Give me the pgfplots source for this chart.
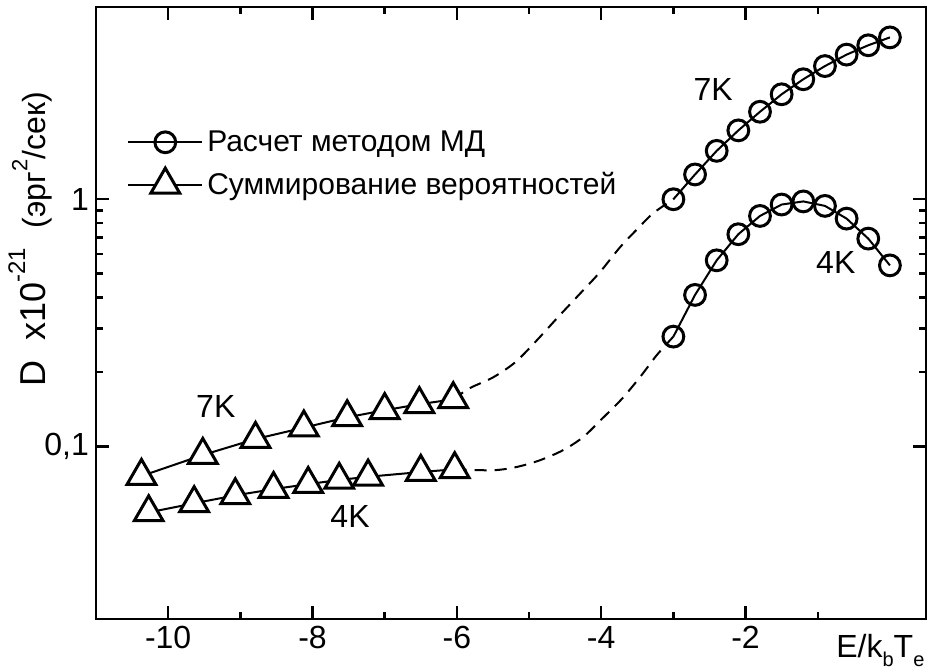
\documentclass[border=0pt]{standalone}
\usepackage{fontspec}
\setmainfont{Liberation Sans}
\usepackage{pgfplots}
\pgfplotsset{compat=1.18}
\usetikzlibrary{calc}
\begin{document}
\begin{tikzpicture}
\begin{axis}[
  scale only axis, width=415pt, height=306pt,
  ymode=log, xmin=-11, xmax=0.5, ymin=0.02, ymax=6,
  xtick={-10,-8,-6,-4,-2}, xticklabels={-10,-8,-6,-4,-2},
  minor xtick={-9,-7,-5,-3,-1},
  ytick={0.1,1}, yticklabels={{0,1},{1}},
  tick align=inside, major tick length=6.5pt, minor tick length=3.5pt,
  axis line style={line width=1.4pt},
  every tick/.style={line width=1.2pt, black},
  tick label style={font=\fontsize{16}{19}\selectfont},
  xlabel={E/k\raisebox{-0.55ex}{\fontsize{10}{10}\selectfont b}T\raisebox{-0.55ex}{\fontsize{10}{10}\selectfont e}},
  xlabel style={at={(rel axis cs:0.945,0)}, anchor=north, yshift=-4pt, font=\fontsize{16}{19}\selectfont},
  ylabel={D\ \ x10\raisebox{1.1ex}{\fontsize{12}{12}\selectfont -21}\ \ {\fontsize{16}{18}\selectfont (эрг\raisebox{1.1ex}{\fontsize{11}{11}\selectfont 2}/сек)}},
  ylabel style={at={(rel axis cs:-0.079,0.62)}, anchor=center, font=\fontsize{18}{21}\selectfont},
  legend style={draw=none, fill=none, at={(rel axis cs:0.03,0.812)}, anchor=north west,
    font=\fontsize{15}{18}\selectfont, row sep=5pt},
  legend cell align=left,
  legend image code/.code={\draw[#1, mark repeat=2, mark phase=2] plot coordinates {(0cm,0cm)(0.65cm,0cm)(1.3cm,0cm)};},
  circ/.style={black, line width=1pt, mark=o, mark size=5.2pt, mark options={line width=1.5pt, fill=white, solid}},
  tri/.style={black, line width=1pt, mark=triangle*, mark size=8.3pt, mark options={line width=1.5pt, fill=white, solid}},
]
\coordinate (sw) at (rel axis cs:0,0);
\coordinate (ne) at (rel axis cs:1,1);
% dashed connections
\addplot[black, line width=1pt, dash pattern=on 6pt off 4pt, smooth, forget plot] coordinates {
(-6.05,0.155) (-5.82,0.172) (-5.50,0.190) (-5.19,0.219) (-4.89,0.269) (-4.60,0.333)
(-4.29,0.416) (-4.02,0.506) (-3.74,0.639) (-3.49,0.763) (-3.28,0.878) (-3,1.0)};
\addplot[black, line width=1pt, dash pattern=on 6pt off 4pt, smooth, forget plot] coordinates {
(-6.03,0.0807) (-5.50,0.0800) (-5.17,0.0825) (-4.85,0.0878) (-4.53,0.0964) (-4.25,0.109)
(-3.98,0.130) (-3.71,0.156) (-3.46,0.191) (-3.23,0.234) (-3,0.278)};
% MD 7K
\addplot[circ] coordinates {
(-3,1.0) (-2.7,1.26) (-2.4,1.57) (-2.1,1.90) (-1.8,2.26) (-1.5,2.66)
(-1.2,3.06) (-0.9,3.46) (-0.6,3.85) (-0.3,4.2) (0,4.52)};
\addlegendentry{Расчет методом МД}
% sum 7K
\addplot[tri] coordinates {
(-10.37,0.0758) (-9.52,0.0922) (-8.79,0.107) (-8.12,0.119) (-7.52,0.131)
(-7.0,0.140) (-6.52,0.148) (-6.05,0.155)};
\addlegendentry{Суммирование вероятностей}
% MD 4K
\addplot[circ, forget plot] coordinates {
(-3,0.278) (-2.7,0.41) (-2.4,0.566) (-2.1,0.722) (-1.8,0.856) (-1.5,0.952)
(-1.2,0.98) (-0.9,0.94) (-0.6,0.835) (-0.3,0.693) (0,0.54)};
% sum 4K
\addplot[tri, forget plot] coordinates {
(-10.27,0.054) (-9.64,0.0588) (-9.07,0.0633) (-8.54,0.0671) (-8.06,0.0703)
(-7.63,0.0731) (-7.23,0.0753) (-6.50,0.0787) (-6.03,0.0807)};
\node[font=\fontsize{16}{19}\selectfont] at (axis cs:-2.45,2.79) {7K};
\node[font=\fontsize{16}{19}\selectfont] at (axis cs:-9.34,0.145) {7K};
\node[font=\fontsize{16}{19}\selectfont] at (axis cs:-7.48,0.052) {4K};
\node[font=\fontsize{16}{19}\selectfont] at (axis cs:-0.75,0.556) {4K};
\end{axis}
\pgfresetboundingbox
\path ($(sw)+(-48pt,-25.5pt)$) rectangle ($(ne)+(1pt,3.5pt)$);
\end{tikzpicture}
\end{document}
